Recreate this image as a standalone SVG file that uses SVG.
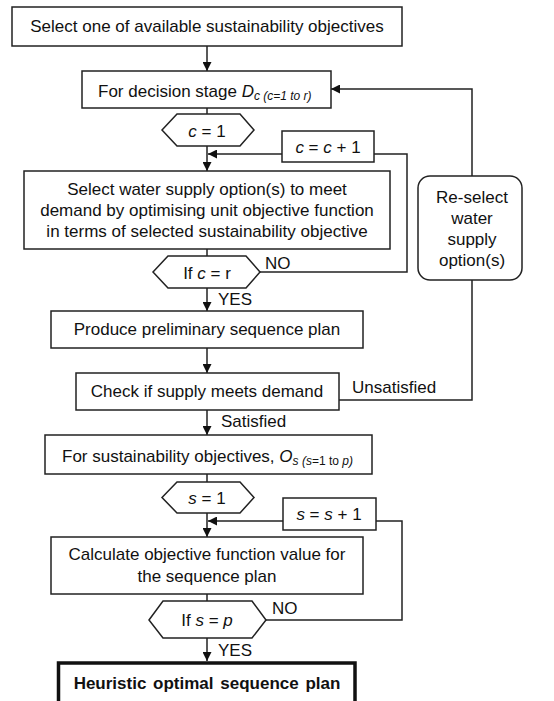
<svg xmlns="http://www.w3.org/2000/svg" width="554" height="701" viewBox="0 0 554 701">
<style>
.box{fill:#fff;stroke:#222;stroke-width:1.5}
.bold{fill:#fff;stroke:#111;stroke-width:3.5}
.ln{fill:none;stroke:#222;stroke-width:1.5}
text{font-family:"Liberation Sans",Arial,sans-serif;font-size:17px;fill:#111}
.c{text-anchor:middle}
.i{font-style:italic}
.sub{font-size:12px;font-style:italic}
.lbl{font-size:17px}
</style>
<defs>
<marker id="ah" viewBox="0 0 10 10" refX="10" refY="5" markerWidth="9" markerHeight="9" markerUnits="userSpaceOnUse" orient="auto">
<path d="M0,0 L10,5 L0,10 z" fill="#111"/>
</marker>
</defs>
<rect width="554" height="701" fill="#fff"/>
<g id="connectors">
<line class="ln" x1="207" y1="46" x2="207" y2="71" marker-end="url(#ah)"/>
<line class="ln" x1="207" y1="108" x2="207" y2="114"/>
<line class="ln" x1="207" y1="146" x2="207" y2="171" marker-end="url(#ah)"/>
<line class="ln" x1="282" y1="154" x2="208" y2="154" marker-end="url(#ah)"/>
<polyline class="ln" points="374,154 407,154 407,272 260,272"/>
<line class="ln" x1="207" y1="249" x2="207" y2="256"/>
<line class="ln" x1="207" y1="288" x2="207" y2="311" marker-end="url(#ah)"/>
<line class="ln" x1="207" y1="348" x2="207" y2="373" marker-end="url(#ah)"/>
<polyline class="ln" points="339,400 472,400 472,280"/>
<polyline class="ln" points="472,176 472,89 331,89" marker-end="url(#ah)"/>
<line class="ln" x1="207" y1="410" x2="207" y2="435" marker-end="url(#ah)"/>
<line class="ln" x1="207" y1="474" x2="207" y2="482"/>
<line class="ln" x1="207" y1="513" x2="207" y2="537" marker-end="url(#ah)"/>
<line class="ln" x1="283" y1="521" x2="208" y2="521" marker-end="url(#ah)"/>
<polyline class="ln" points="376,521 402,521 402,620 266,620"/>
<line class="ln" x1="207" y1="594" x2="207" y2="601"/>
<line class="ln" x1="207" y1="638" x2="207" y2="661" marker-end="url(#ah)"/>
<text class="lbl" x="265" y="269">NO</text>
<text class="lbl" x="218" y="305">YES</text>
<text class="lbl" x="352" y="393">Unsatisfied</text>
<text class="lbl" x="221" y="427">Satisfied</text>
<text class="lbl" x="272" y="614">NO</text>
<text class="lbl" x="218" y="656">YES</text>
</g>
<g id="n1">
<rect class="box" x="12" y="7" width="390" height="39"/>
<text class="c" x="207" y="32">Select one of available sustainability objectives</text>
</g>
<g id="n2">
<rect class="box" x="82" y="71" width="249" height="37"/>
<text x="98" y="97">For decision stage <tspan class="i">D</tspan><tspan class="sub" dy="3">c (c=1 to r)</tspan></text>
</g>
<g id="n3">
<polygon class="box" points="162,130 177,114 240,114 254,130 240,146 177,146"/>
<text class="c" x="207" y="137"><tspan class="i">c</tspan> = 1</text>
</g>
<g id="n4">
<rect class="box" x="282" y="131" width="92" height="31"/>
<text class="c" x="328" y="153"><tspan class="i">c</tspan> = <tspan class="i">c</tspan> + 1</text>
</g>
<g id="n5">
<rect class="box" x="24" y="171" width="366" height="78"/>
<text class="c" x="207" y="195">Select water supply option(s) to meet</text>
<text class="c" x="207" y="216">demand by optimising unit objective function</text>
<text class="c" x="207" y="237">in terms of selected sustainability objective</text>
</g>
<g id="n6">
<polygon class="box" points="153,272 168,256 246,256 260,272 246,288 168,288"/>
<text class="c" x="207" y="279">If <tspan class="i">c</tspan> = r</text>
</g>
<g id="n7">
<rect class="box" x="418" y="176" width="104" height="104" rx="12" ry="12"/>
<text class="c" x="472" y="203">Re-select</text>
<text class="c" x="472" y="224">water</text>
<text class="c" x="472" y="245">supply</text>
<text class="c" x="472" y="266">option(s)</text>
</g>
<g id="n8">
<rect class="box" x="51" y="311" width="312" height="37"/>
<text class="c" x="207" y="335">Produce preliminary sequence plan</text>
</g>
<g id="n9">
<rect class="box" x="76" y="373" width="263" height="37"/>
<text class="c" x="207" y="397">Check if supply meets demand</text>
</g>
<g id="n10">
<rect class="box" x="45" y="435" width="327" height="39"/>
<text x="62" y="462">For sustainability objectives, <tspan class="i">O</tspan><tspan class="sub" dy="3"><tspan>s (s</tspan><tspan style="font-style:normal">=1 to </tspan><tspan>p)</tspan></tspan></text>
</g>
<g id="n11">
<polygon class="box" points="162,497.5 177,482 240,482 254,497.5 240,513 177,513"/>
<text class="c" x="207" y="504"><tspan class="i">s</tspan> = 1</text>
</g>
<g id="n12">
<rect class="box" x="283" y="498" width="93" height="32"/>
<text class="c" x="329" y="520"><tspan class="i">s</tspan> = <tspan class="i">s</tspan> + 1</text>
</g>
<g id="n13">
<rect class="box" x="51" y="537" width="312" height="57"/>
<text class="c" x="207" y="560">Calculate objective function value for</text>
<text class="c" x="207" y="582">the sequence plan</text>
</g>
<g id="n14">
<polygon class="box" points="149,620 163,601 252,601 266,620 252,638 163,638"/>
<text class="c" x="207" y="626">If <tspan class="i">s</tspan> = <tspan class="i">p</tspan></text>
</g>
<g id="n15">
<rect class="bold" x="58.5" y="663" width="296.5" height="50"/>
<text class="c" x="207" y="689" style="font-weight:bold;word-spacing:2px">Heuristic optimal sequence plan</text>
</g>
</svg>
